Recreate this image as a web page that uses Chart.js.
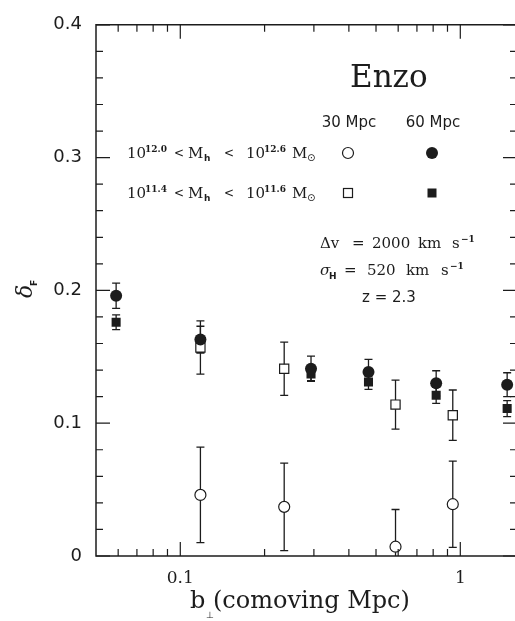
<!DOCTYPE html>
<html>
<head>
<meta charset="utf-8">
<script src="https://cdn.jsdelivr.net/npm/chart.js@4.4.1/dist/chart.umd.min.js"></script>
<style>
  html, body { margin: 0; padding: 0; background: #fff; overflow: hidden; }
  #chart { display: block; }
</style>
</head>
<body>
<canvas id="chart" width="515" height="621"></canvas>
<script>
// b_perp (comoving Mpc) and delta_F with 1-sigma errors
const bHigh60 = [0.059, 0.118, 0.293, 0.47, 0.82, 1.47];
const dHigh60 = [0.196, 0.163, 0.141, 0.1385, 0.130, 0.129];
const eHigh60 = [0.0095, 0.010, 0.0095, 0.0095, 0.0095, 0.009];

const bLow60 = [0.059, 0.118, 0.293, 0.47, 0.82, 1.47];
const dLow60 = [0.176, 0.158, 0.137, 0.131, 0.121, 0.111];
const eLow60 = [0.0055, 0.005, 0.005, 0.0056, 0.006, 0.006];

const bHigh30 = [0.118, 0.235, 0.587, 0.94];
const dHigh30 = [0.046, 0.037, 0.007, 0.039];
const eHigh30 = [0.036, 0.033, 0.028, 0.0325];

const bLow30 = [0.118, 0.235, 0.587, 0.94];
const dLow30 = [0.157, 0.141, 0.114, 0.106];
const eLow30 = [0.020, 0.020, 0.0184, 0.019];

// tick marks and labels
const xTicks = [0.06, 0.07, 0.08, 0.09, 0.1, 0.2, 0.3, 0.4, 0.5, 0.6, 0.7, 0.8, 0.9, 1];
const xLabels = [0.1, 1];

const ink = "#1c1c1c";
const serif = '"DejaVu Serif", serif';
const sans = '"DejaVu Sans", sans-serif';

function points(xs, ys) {
	return xs.map((v, i) => ({ x: v, y: ys[i] }));
}

function isMajorY(v) {
	return Math.abs(v * 10 - Math.round(v * 10)) < 1e-6;
}

// draws a row of text pieces: [text, font, x, dy]
function pieces(ctx, y, list) {
	list.forEach(([t, f, x, dy]) => {
		ctx.font = f;
		ctx.fillText(t, x, y + (dy || 0));
	});
}

// error bars under the markers
const errorBars = {
	id: "errorBars",
	beforeDatasetsDraw(chart) {
		const { ctx, chartArea: a, scales: { x, y } } = chart;
		ctx.save();
		ctx.beginPath();
		ctx.rect(a.left, a.top, a.right - a.left, a.bottom - a.top);
		ctx.clip();
		ctx.strokeStyle = ink;
		ctx.lineWidth = 1.3;
		chart.data.datasets.forEach((ds) => {
			ds.data.forEach((p, i) => {
				const px = x.getPixelForValue(p.x);
				const lo = y.getPixelForValue(p.y - ds.errors[i]);
				const hi = y.getPixelForValue(p.y + ds.errors[i]);
				ctx.beginPath();
				ctx.moveTo(px, lo); ctx.lineTo(px, hi);
				ctx.moveTo(px - 4, lo); ctx.lineTo(px + 4, lo);
				ctx.moveTo(px - 4, hi); ctx.lineTo(px + 4, hi);
				ctx.stroke();
			});
		});
		ctx.restore();
	},
};

// axes lines (the right one falls just outside the picture) and inward ticks
const frame = {
	id: "frame",
	afterDraw(chart) {
		const { ctx, chartArea: a, scales: { x, y } } = chart;
		ctx.save();
		ctx.strokeStyle = ink;
		ctx.lineWidth = 1.5;
		ctx.beginPath();
		ctx.moveTo(a.right, a.top); ctx.lineTo(a.left, a.top);
		ctx.lineTo(a.left, a.bottom); ctx.lineTo(a.right, a.bottom);
		ctx.stroke();
		ctx.lineWidth = 1.2;
		ctx.beginPath();
		x.ticks.forEach((t) => {
			const px = x.getPixelForValue(t.value);
			const len = xLabels.includes(t.value) ? 14 : 7;
			ctx.moveTo(px, a.bottom); ctx.lineTo(px, a.bottom - len);
			ctx.moveTo(px, a.top); ctx.lineTo(px, a.top + len);
		});
		y.ticks.forEach((t) => {
			const py = y.getPixelForValue(t.value);
			ctx.moveTo(a.left, py); ctx.lineTo(a.left + (isMajorY(t.value) ? 14 : 7), py);
			ctx.moveTo(a.right, py); ctx.lineTo(a.right - (isMajorY(t.value) ? 12 : 5), py);
		});
		ctx.stroke();
		ctx.restore();
	},
};

// title, legend block, parameters and axis titles
const notes = {
	id: "notes",
	afterDraw(chart) {
		const { ctx } = chart;
		ctx.save();
		ctx.fillStyle = ink;
		ctx.strokeStyle = ink;
		ctx.textBaseline = "alphabetic";

		ctx.textAlign = "left";
		ctx.font = "31px " + serif;
		ctx.fillText("Enzo", 350, 87);

		ctx.textAlign = "center";
		ctx.font = "15px " + sans;
		ctx.fillText("30 Mpc", 349, 127);
		ctx.fillText("60 Mpc", 433, 127);

		ctx.textAlign = "left";
		const big = "15px " + serif;
		const lt = "12px " + serif;
		const sup = "bold 9px " + serif;
		const sub = "bold 9px " + sans;
		pieces(ctx, 158, [
			["10", big, 127], ["12.0", sup, 145, -6], ["<", lt, 174, -1],
			["M", big, 188], ["h", sub, 204, 3], ["<", lt, 224, -1],
			["10", big, 246], ["12.6", sup, 264, -6], ["M", big, 292], ["\u2299", "10px " + sans, 307, 3],
		]);
		pieces(ctx, 198, [
			["10", big, 127], ["11.4", sup, 145, -6], ["<", lt, 174, -1],
			["M", big, 188], ["h", sub, 204, 3], ["<", lt, 224, -1],
			["10", big, 246], ["11.6", sup, 264, -6], ["M", big, 292], ["\u2299", "10px " + sans, 307, 3],
		]);

		// legend markers
		ctx.lineWidth = 1.2;
		ctx.fillStyle = "#fff";
		ctx.beginPath(); ctx.arc(348, 153, 5.5, 0, 2 * Math.PI); ctx.fill(); ctx.stroke();
		ctx.fillStyle = ink;
		ctx.beginPath(); ctx.arc(432, 153, 6, 0, 2 * Math.PI); ctx.fill();
		ctx.strokeRect(343.5, 188.5, 9, 9);
		ctx.fillRect(427.5, 188.5, 9, 9);

		const mid = "15px " + serif;
		pieces(ctx, 248, [
			["\u0394v", mid, 320], ["=", mid, 352], ["2000", mid, 372],
			["km", mid, 418], ["s", mid, 452], ["\u22121", "bold 9px " + serif, 461, -6],
		]);
		pieces(ctx, 275, [
			["\u03c3", "italic 15px " + serif, 320], ["H", "bold 9px " + sans, 329, 4], ["=", mid, 344],
			["520", mid, 367], ["km", mid, 406], ["s", mid, 441], ["\u22121", "bold 9px " + serif, 450, -6],
		]);
		ctx.font = "15px " + sans;
		ctx.fillText("z = 2.3", 362, 302);

		// x axis title
		ctx.font = "24px " + serif;
		ctx.fillText("b", 190, 608);
		ctx.font = "9px " + sans;
		ctx.fillText("\u22a5", 206, 618);
		ctx.font = "24px " + serif;
		ctx.fillText("(comoving Mpc)", 213, 608);

		// y axis title
		ctx.translate(32, 298);
		ctx.rotate(-Math.PI / 2);
		ctx.font = "italic 22px " + serif;
		ctx.fillText("\u03b4", 0, 0);
		ctx.font = "bold 9px " + sans;
		ctx.fillText("F", 12, 5);
		ctx.restore();
	},
};

new Chart(document.getElementById("chart"), {
	type: "scatter",
	data: {
		datasets: [
			{
				label: "60 Mpc, 10^12.0-10^12.6",
				data: points(bHigh60, dHigh60),
				errors: eHigh60,
				pointStyle: "circle",
				pointRadius: 6,
				backgroundColor: ink,
				borderColor: ink,
				borderWidth: 0,
				order: 1,
			},
			{
				label: "30 Mpc, 10^11.4-10^11.6",
				data: points(bLow30, dLow30),
				errors: eLow30,
				pointStyle: "rect",
				pointRadius: 6.5,
				backgroundColor: "#fff",
				borderColor: ink,
				borderWidth: 1.2,
				order: 2,
			},
			{
				label: "60 Mpc, 10^11.4-10^11.6",
				data: points(bLow60, dLow60),
				errors: eLow60,
				pointStyle: "rect",
				pointRadius: 6.4,
				backgroundColor: ink,
				borderColor: ink,
				borderWidth: 0,
				order: 3,
			},
			{
				label: "30 Mpc, 10^12.0-10^12.6",
				data: points(bHigh30, dHigh30),
				errors: eHigh30,
				pointStyle: "circle",
				pointRadius: 5.5,
				backgroundColor: "#fff",
				borderColor: ink,
				borderWidth: 1.2,
				order: 4,
			},
		],
	},
	options: {
		responsive: false,
		animation: false,
		devicePixelRatio: 1,
		events: [],
		layout: { autoPadding: false, padding: { top: 18, right: 0, left: 0, bottom: 0 } },
		plugins: { legend: { display: false }, tooltip: { enabled: false } },
		scales: {
			x: {
				type: "logarithmic",
				min: 0.05,
				max: 1.568,
				grid: { display: false, drawTicks: false },
				border: { display: false },
				afterBuildTicks: (s) => { s.ticks = xTicks.map((v) => ({ value: v })); },
				afterFit: (s) => {
					s.height = 65;
					s.paddingLeft = 0;
					s.paddingRight = 0;
				},
				ticks: {
					autoSkip: false,
					maxRotation: 0,
					padding: 12,
					color: ink,
					font: { family: "DejaVu Serif", size: 17 },
					callback: (v) => (xLabels.includes(v) ? String(v) : ""),
				},
			},
			y: {
				min: 0,
				max: 0.4,
				grid: { display: false, drawTicks: false },
				border: { display: false },
				afterFit: (s) => { s.width = 96; },
				ticks: {
					stepSize: 0.02,
					autoSkip: false,
					padding: 14,
					color: ink,
					font: { family: "DejaVu Sans", size: 18 },
					callback: (v) => (isMajorY(v) ? (v === 0 ? "0" : v.toFixed(1)) : ""),
				},
			},
		},
	},
	plugins: [errorBars, frame, notes],
});
</script>
</body>
</html>
